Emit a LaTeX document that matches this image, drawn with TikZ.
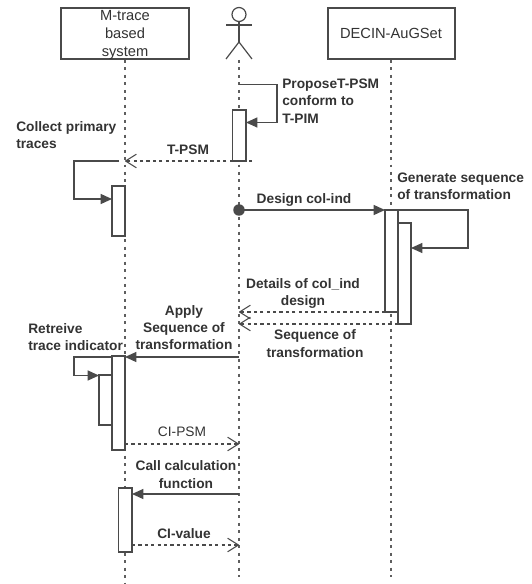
\documentclass[tikz,border=0pt]{standalone}
\usepackage{fontspec}
\setmainfont{Liberation Sans}
\usetikzlibrary{arrows.meta,fit}
\definecolor{ln}{HTML}{4A4A4A}
\definecolor{lf}{HTML}{5E5E5E}
\definecolor{tx}{HTML}{333333}
\tikzset{
  x=0.75pt,y=-0.75pt,
  head/.style={draw=ln,line width=1.1pt,fill=white,inner sep=0,outer sep=0},
  act/.style={draw=ln,line width=1.0pt,fill=white,inner sep=0,outer sep=0},
  life/.style={draw=lf,line width=1.2pt,dash pattern=on 2.2pt off 3.4pt},
  call/.style={draw=ln,line width=0.9pt,-{Triangle[length=8.5pt,width=7.5pt]}},
  ret/.style={draw=ln,line width=0.8pt,dash pattern=on 2.4pt off 2.4pt,-{Straight Barb[length=8pt,width=10pt,line width=0.8pt,round]}},
  lab/.style={text=tx,font=\fontsize{10.3}{13}\selectfont\bfseries,align=center,inner sep=0},
  labl/.style={lab,align=left},
  reg/.style={text=tx,font=\fontsize{11}{14}\selectfont,align=center,inner sep=0},
  stick/.style={draw=ln,line width=0.9pt},
}
\begin{document}
\begin{tikzpicture}
\useasboundingbox (0,0) rectangle (531,584);
% lifeline ends
\coordinate (l1t) at (125,60); \coordinate (l1b) at (125,584);
\coordinate (l2t) at (239,60); \coordinate (l2b) at (239,577);
\coordinate (l3t) at (391,60); \coordinate (l3b) at (391,577);
\draw[life] (l1t) -- (l1b);
\draw[life] (l2t) -- (l2b);
\draw[life] (l3t) -- (l3b);
% heads
\node[head,fit={(61,8)(189,59)}] (mtrace) {};
\node[head,fit={(328,8)(455,59)}] (decin) {};
\node[reg] at (125,15.5) (mt1) {M-trace};
\node[reg] at (125,33.5) (mt2) {based};
\node[reg] at (125,53) (mt3) {system};
\node[reg] at (391,33.5) (dc) {DECIN-AuGSet};
% actor
\node[stick,circle,minimum size=10.5pt,inner sep=0,outer sep=0] (ahead) at (239,14.5) {};
\coordinate (hip) at (239,42);
\coordinate (armL) at (226,25); \coordinate (armR) at (252,25);
\coordinate (legL) at (226,59); \coordinate (legR) at (252,59);
\draw[stick] (ahead.south) -- (hip);
\draw[stick] (armL) -- (armR);
\draw[stick] (legL) -- (hip) -- (legR);
% activations
\node[act,fit={(232.5,110)(246,161)}] (a1) {};
\node[act,fit={(112,186)(125,236)}] (a2) {};
\node[act,fit={(385,210)(398,312)}] (a3) {};
\node[act,fit={(398,223)(411,324)}] (a4) {};
\node[act,fit={(112,356)(125,450)}] (a5) {};
\node[act,fit={(99,375)(112,425)}] (a6) {};
\node[act,fit={(118.5,488)(132,552)}] (a7) {};
% free ends
\coordinate (s1) at (239,84.5);
\coordinate (r1) at (252,161);
\coordinate (r1e) at (125,161);
\coordinate (c2s) at (119,161);
\coordinate (dot) at (239,210);
\coordinate (r3s) at (a3.west|-0,312);
\coordinate (r3e) at (239,312);
\coordinate (r4s) at (a4.west|-0,324);
\coordinate (r4e) at (239,324);
\coordinate (ap) at (239,357);
\coordinate (cp) at (a5.east|-0,444);
\coordinate (cpe) at (239,444);
\coordinate (ca) at (239,494);
\coordinate (cv) at (a7.east|-0,545);
\coordinate (cve) at (239,545);
% messages
\draw[call] (s1) -- (277,84.5) -- (277,122.5) -- (a1.east|-0,122.5);
\draw[ret] (r1) -- (r1e);
\draw[call] (c2s) -- (74,161) -- (74,199) -- (a2.west|-0,199);
\fill[ln] (dot) circle[radius=4.3pt];
\draw[call] (dot) -- (a3.west|-dot);
\draw[call] (a3.east|-dot) -- (468,210) -- (468,248) -- (a4.east|-0,248);
\draw[ret] (r3s) -- (r3e);
\draw[ret] (r4s) -- (r4e);
\draw[call] (ap) -- (a5.east|-ap);
\draw[draw=ln,line width=0.9pt] (a5.west|-ap) -- (74,357) -- (74,375.5) -- (a6.west|-0,375.5);
\draw[call] (74,375.5) -- (a6.west|-0,375.5);
\draw[ret] (cp) -- (cpe);
\draw[call] (ca) -- (a7.east|-ca);
\draw[ret] (cv) -- (cve);
% labels
\node[labl,anchor=west] (tcollect) at (16,135) {Collect primary\\traces};
\node[lab] (ttpsm) at (188,150) {T-PSM};
\node[labl,anchor=west] (tprop) at (282,101) {ProposeT-PSM\\conform to\\T-PIM};
\node[lab] (tdes) at (304,200) {Design col-ind};
\node[labl,anchor=west] (tgen) at (397,186) {Generate sequence\\of transformation};
\node[lab] (tdet) at (303,293.5) {Details of col\_ind\\design};
\node[lab] (tseq) at (315,343.5) {Sequence of\\transformation};
\node[lab] (tapp) at (184,327.5) {Apply\\Sequence of\\transformation};
\node[labl,anchor=west] (tret) at (28,337) {Retreive\\trace indicator};
\node[reg,font=\fontsize{10.3}{13}\selectfont] (tci) at (182,432) {CI-PSM};
\node[lab] (tcall) at (186,474.5) {Call calculation\\function};
\node[lab] (tval) at (184,534) {CI-value};
\end{tikzpicture}
\end{document}
